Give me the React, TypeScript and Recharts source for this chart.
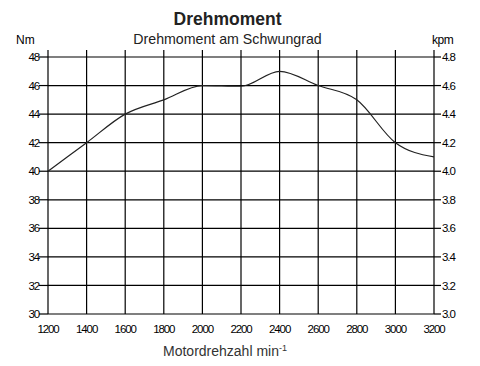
import { LineChart, Line, XAxis, YAxis, CartesianGrid } from "recharts"

const rpm = [1200, 1400, 1600, 1800, 2000, 2200, 2400, 2600, 2800, 3000, 3200]
const torqueNm = [40, 42, 44, 45, 46, 45.95, 47, 46, 45, 42, 41]
const nmTicks = [30, 32, 34, 36, 38, 40, 42, 44, 46, 48]
const kpmTicks = [3.0, 3.2, 3.4, 3.6, 3.8, 4.0, 4.2, 4.4, 4.6, 4.8]

const data = rpm.map((r, i) => ({ rpm: r, nm: torqueNm[i] }))

const font = "Liberation Sans, Arial, sans-serif"
const tickStyle = { fontSize: 11.5, fill: "#000", letterSpacing: -1.1, fontFamily: font }

export default function App() {
    return (
        <div style={{ position: "absolute", left: 0, top: 0, width: 480, height: 366, background: "#fff", fontFamily: font }}>
            <div style={{ position: "absolute", left: 0, width: 455, top: 9, textAlign: "center", fontSize: 17.5, fontWeight: "bold", color: "#222" }}>
                Drehmoment
            </div>
            <div style={{ position: "absolute", left: 0, width: 455, top: 31, textAlign: "center", fontSize: 14.2, color: "#222" }}>
                Drehmoment am Schwungrad
            </div>
            <div style={{ position: "absolute", left: 16, top: 33, fontSize: 12, color: "#000" }}>Nm</div>
            <div style={{ position: "absolute", left: 432, top: 33, fontSize: 12, color: "#000", letterSpacing: -0.5 }}>kpm</div>
            <div style={{ position: "absolute", left: 0, width: 450, top: 343, textAlign: "center", fontSize: 14, color: "#333" }}>
                Motordrehzahl min<sup style={{ fontSize: 9, verticalAlign: "5px" }}>-1</sup>
            </div>
            <LineChart width={480} height={366} data={data} margin={{ top: 50, right: 0, bottom: 0, left: 0 }}>
                <CartesianGrid yAxisId="nm" stroke="#000" strokeWidth={1.2} />
                <XAxis
                    dataKey="rpm"
                    type="number"
                    domain={[1200, 3200]}
                    ticks={rpm}
                    height={52}
                    tickLine={false}
                    axisLine={false}
                    tickSize={11}
                    tickMargin={0}
                    tick={tickStyle}
                />
                <XAxis
                    xAxisId="top"
                    orientation="top"
                    dataKey="rpm"
                    type="number"
                    domain={[1200, 3200]}
                    ticks={rpm}
                    height={7}
                    tickSize={7}
                    axisLine={false}
                    tickLine={{ stroke: "#000", strokeWidth: 1.2 }}
                    tickFormatter={() => ""}
                />
                <YAxis
                    yAxisId="nm"
                    domain={[30, 48]}
                    ticks={nmTicks}
                    width={48}
                    tickSize={9}
                    tickMargin={0}
                    axisLine={false}
                    tickLine={{ stroke: "#000", strokeWidth: 1.2 }}
                    tick={tickStyle}
                    interval={0}
                />
                <YAxis
                    yAxisId="kpm"
                    orientation="right"
                    domain={[3.0, 4.8]}
                    ticks={kpmTicks}
                    width={46}
                    tickSize={7}
                    tickMargin={1}
                    axisLine={false}
                    tickLine={{ stroke: "#000", strokeWidth: 1.2 }}
                    tick={tickStyle}
                    tickFormatter={(v: number) => v.toFixed(1)}
                    interval={0}
                    allowDataOverflow
                />
                <Line
                    yAxisId="nm"
                    dataKey="nm"
                    type="monotone"
                    stroke="#222"
                    strokeWidth={1.2}
                    dot={false}
                    isAnimationActive={false}
                />
            </LineChart>
        </div>
    )
}
